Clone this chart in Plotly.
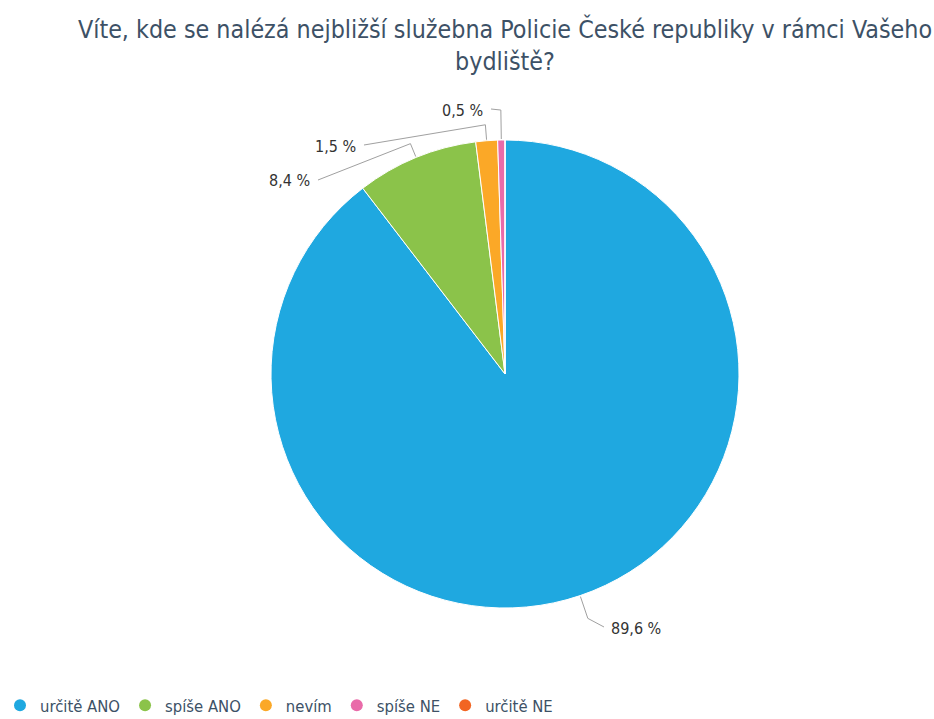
import math
import plotly.graph_objects as go

# ---- data ----
categories = ["určitě ANO", "spíše ANO", "nevím", "spíše NE", "určitě NE"]
values = [89.6, 8.4, 1.5, 0.5, 0.0]
colors = ["#1fa8e0", "#8bc34a", "#fba827", "#e96ba9", "#f26522"]
title_text = "Víte, kde se nalézá nejbližší služebna Policie České republiky v rámci Vašeho<br>bydliště?"

# ---- layout constants (pixels) ----
W, H = 934, 719
CX, CY, R = 505, 374, 234
FONT = "DejaVu Sans Condensed, DejaVu Sans, sans-serif"

# label styling: radial extension of leader, label anchor (px), side
label_style = [
    dict(ext=24, lx=609, ly=628, anchor="left"),
    dict(ext=15, lx=312, ly=181, anchor="right"),
    dict(ext=16, lx=358, ly=146, anchor="right"),
    dict(ext=30, lx=485, ly=110, anchor="right"),
    None,
]


def px(x, y):
    return x / W, 1 - y / H


fig = go.Figure()
fig.add_trace(go.Pie(
    labels=categories,
    values=values,
    sort=False,
    direction="clockwise",
    rotation=0,
    marker=dict(colors=colors, line=dict(color="white", width=1)),
    textinfo="none",
    hoverinfo="label+percent",
    showlegend=False,
    domain=dict(x=[(CX - R) / W, (CX + R) / W], y=[1 - (CY + R) / H, 1 - (CY - R) / H]),
))

# legend entries with circular markers
for name, col in zip(categories, colors):
    fig.add_trace(go.Scatter(x=[None], y=[None], mode="markers", name=name,
                             marker=dict(symbol="circle", size=13, color=col)))

total = sum(values)
cum = 0.0
shapes = []
annotations = []
for v, st in zip(values, label_style):
    mid = (cum + v / 2) / total * 2 * math.pi
    cum += v
    if st is None or v <= 0:
        continue
    dx, dy = math.sin(mid), -math.cos(mid)
    ex, ey = CX + (R + 1) * dx, CY + (R + 1) * dy
    bx, by = CX + (R + st["ext"]) * dx, CY + (R + st["ext"]) * dy
    endx = st["lx"] - 5 if st["anchor"] == "left" else st["lx"] + 6
    endy = st["ly"] - 1
    pts = [px(ex, ey), px(bx, by), px(endx, endy)]
    path = "M {:.5f},{:.5f} L {:.5f},{:.5f} L {:.5f},{:.5f}".format(
        pts[0][0], pts[0][1], pts[1][0], pts[1][1], pts[2][0], pts[2][1])
    shapes.append(dict(type="path", path=path, xref="paper", yref="paper",
                       line=dict(color="#a0a0a0", width=1)))
    lxp, lyp = px(st["lx"], st["ly"])
    annotations.append(dict(x=lxp, y=lyp, xref="paper", yref="paper",
                            text=("%.1f" % v).replace(".", ",") + " %",
                            showarrow=False, xanchor=st["anchor"], yanchor="middle",
                            font=dict(family=FONT, size=16, color="#333333")))

fig.update_layout(
    width=W, height=H,
    margin=dict(l=0, r=0, t=0, b=0, autoexpand=False),
    paper_bgcolor="white", plot_bgcolor="white",
    title=dict(text=title_text, x=CX / W, xanchor="center", y=1 - 38 / H, yanchor="top",
               font=dict(family=FONT, size=24.8, color="#3d5166")),
    xaxis=dict(visible=False), yaxis=dict(visible=False),
    legend=dict(orientation="h", x=0, xanchor="left", y=-4 / H, yanchor="bottom",
                font=dict(family=FONT, size=16.5, color="#3d5166"),
                itemsizing="constant", traceorder="normal"),
    shapes=shapes,
    annotations=annotations,
)

fig.write_html("out.html", config={"displayModeBar": False},
               post_script="document.body.style.margin='0px';")
